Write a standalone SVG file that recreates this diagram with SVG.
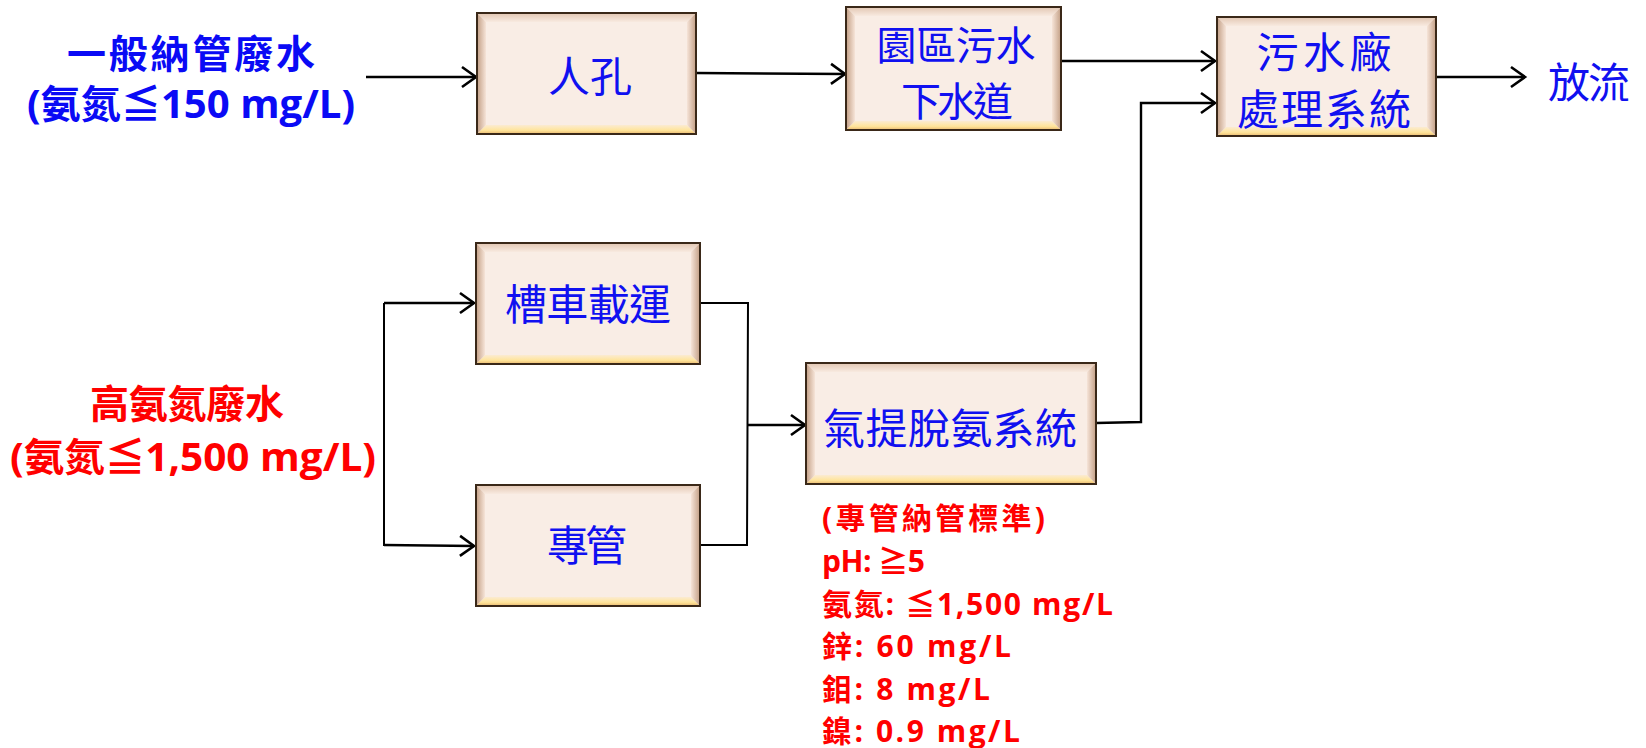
<svg xmlns="http://www.w3.org/2000/svg" width="1646" height="748" viewBox="0 0 1646 748">
<defs>
<linearGradient id="gL" x1="0" y1="0" x2="1" y2="0"><stop offset="0" stop-color="#C29E84"/><stop offset="1" stop-color="#F6E4D8"/></linearGradient>
<linearGradient id="gR" x1="0" y1="0" x2="1" y2="0"><stop offset="0" stop-color="#F6E4D8"/><stop offset="1" stop-color="#C29E84"/></linearGradient>
<linearGradient id="gT" x1="0" y1="0" x2="0" y2="1"><stop offset="0" stop-color="#E2C6B2"/><stop offset="1" stop-color="#F8EAE0"/></linearGradient>
<linearGradient id="gB" x1="0" y1="0" x2="0" y2="1"><stop offset="0" stop-color="#FBEBD2"/><stop offset="0.6" stop-color="#FFE49A"/><stop offset="1" stop-color="#E9B870"/></linearGradient>
<marker id="arr" markerUnits="userSpaceOnUse" markerWidth="20" markerHeight="24" refX="16" refY="12" orient="auto" viewBox="0 0 20 24">
<polyline points="2,2 16,12 2,22" fill="none" stroke="#000" stroke-width="2.6"/>
</marker>
</defs>
<style>
.face{fill:#F9EDE5;}
.edge{fill:none;stroke:#3A2818;stroke-width:2;}
.bl{fill:url(#gL);} .br{fill:url(#gR);} .bt{fill:url(#gT);} .bb{fill:url(#gB);}
.bt2{font-family:"Noto Sans CJK TC","Noto Sans",sans-serif;font-size:42px;fill:#1010F0;text-anchor:middle;dominant-baseline:central;}
.sm{font-size:40px;}
.lab{font-family:"Open Sans","Noto Sans CJK TC",sans-serif;font-weight:bold;font-size:39px;text-anchor:middle;dominant-baseline:central;}
.std{font-family:"Open Sans","Noto Sans CJK TC",sans-serif;font-weight:bold;font-size:30px;fill:#FF0000;dominant-baseline:central;}
.c{fill:none;stroke:#000;stroke-width:2;}
.ca{fill:none;stroke:#000;stroke-width:2.4;marker-end:url(#arr);}
</style>

<g id="connectors">
<line class="ca" x1="366" y1="77" x2="476" y2="77"/>
<line class="ca" x1="696" y1="73" x2="845" y2="74"/>
<line class="ca" x1="1061" y1="61" x2="1215" y2="61"/>
<polyline class="ca" points="1096,423 1141,422 1141,103 1215,103"/>
<line class="ca" x1="1436" y1="77" x2="1525" y2="77"/>
<line class="c" x1="384" y1="303" x2="384" y2="546"/>
<line class="ca" x1="384" y1="303" x2="474" y2="303"/>
<line class="ca" x1="384" y1="545" x2="474" y2="546"/>
<polyline class="c" points="700,303 748,303 747,545 700,545"/>
<line class="ca" x1="747" y1="425" x2="805" y2="425"/>
</g>

<g id="label-general">
<text class="lab" x="191" y="52" fill="#0A0AF5" textLength="248" lengthAdjust="spacing">一般納管廢水</text>
<text class="lab" x="191" y="102" fill="#0A0AF5" textLength="328" lengthAdjust="spacingAndGlyphs">(氨氮≦150 mg/L)</text>
</g>
<g id="label-high">
<text class="lab" x="187" y="402" fill="#FF0000" textLength="194" lengthAdjust="spacing">高氨氮廢水</text>
<text class="lab" x="193" y="455" fill="#FF0000" textLength="366" lengthAdjust="spacingAndGlyphs">(氨氮≦1,500 mg/L)</text>
</g>

<g id="node-manhole">
<rect class="face" x="477" y="13" width="219" height="121"/>
<path class="bt" d="M477,13 L696,13 L687,22 L486,22 Z"/>
<path class="bb" d="M477,134 L696,134 L687,125 L486,125 Z"/>
<path class="bl" d="M477,13 L486,22 L486,125 L477,134 Z"/>
<path class="br" d="M696,13 L687,22 L687,125 L696,134 Z"/>
<rect class="edge" x="477" y="13" width="219" height="121"/>
<text class="bt2" x="590" y="73">人孔</text>
</g>

<g id="node-sewer">
<rect class="face" x="846" y="7" width="215" height="123"/>
<path class="bt" d="M846,7 L1061,7 L1052,16 L855,16 Z"/>
<path class="bb" d="M846,130 L1061,130 L1052,121 L855,121 Z"/>
<path class="bl" d="M846,7 L855,16 L855,121 L846,130 Z"/>
<path class="br" d="M1061,7 L1052,16 L1052,121 L1061,130 Z"/>
<rect class="edge" x="846" y="7" width="215" height="123"/>
<text class="bt2 sm" x="956" y="43" textLength="159" lengthAdjust="spacing">園區污水</text>
<text class="bt2 sm" x="957" y="99" textLength="112" lengthAdjust="spacing">下水道</text>
</g>

<g id="node-plant">
<rect class="face" x="1217" y="17" width="219" height="119"/>
<path class="bt" d="M1217,17 L1436,17 L1427,26 L1226,26 Z"/>
<path class="bb" d="M1217,136 L1436,136 L1427,127 L1226,127 Z"/>
<path class="bl" d="M1217,17 L1226,26 L1226,127 L1217,136 Z"/>
<path class="br" d="M1436,17 L1427,26 L1427,127 L1436,136 Z"/>
<rect class="edge" x="1217" y="17" width="219" height="119"/>
<text class="bt2" x="1324" y="49" textLength="135" lengthAdjust="spacing">污水廠</text>
<text class="bt2" x="1324" y="106" textLength="174" lengthAdjust="spacing">處理系統</text>
</g>

<g id="node-discharge">
<text class="bt2" x="1589" y="79" textLength="82" lengthAdjust="spacing">放流</text>
</g>

<g id="node-truck">
<rect class="face" x="476" y="243" width="224" height="121"/>
<path class="bt" d="M476,243 L700,243 L691,252 L485,252 Z"/>
<path class="bb" d="M476,364 L700,364 L691,355 L485,355 Z"/>
<path class="bl" d="M476,243 L485,252 L485,355 L476,364 Z"/>
<path class="br" d="M700,243 L691,252 L691,355 L700,364 Z"/>
<rect class="edge" x="476" y="243" width="224" height="121"/>
<text class="bt2" x="588" y="301" textLength="166" lengthAdjust="spacing">槽車載運</text>
</g>

<g id="node-pipe">
<rect class="face" x="476" y="485" width="224" height="121"/>
<path class="bt" d="M476,485 L700,485 L691,494 L485,494 Z"/>
<path class="bb" d="M476,606 L700,606 L691,597 L485,597 Z"/>
<path class="bl" d="M476,485 L485,494 L485,597 L476,606 Z"/>
<path class="br" d="M700,485 L691,494 L691,597 L700,606 Z"/>
<rect class="edge" x="476" y="485" width="224" height="121"/>
<text class="bt2" x="587" y="542" textLength="80" lengthAdjust="spacing">專管</text>
</g>

<g id="node-stripping">
<rect class="face" x="806" y="363" width="290" height="121"/>
<path class="bt" d="M806,363 L1096,363 L1087,372 L815,372 Z"/>
<path class="bb" d="M806,484 L1096,484 L1087,475 L815,475 Z"/>
<path class="bl" d="M806,363 L815,372 L815,475 L806,484 Z"/>
<path class="br" d="M1096,363 L1087,372 L1087,475 L1096,484 Z"/>
<rect class="edge" x="806" y="363" width="290" height="121"/>
<text class="bt2" x="950" y="425" textLength="254" lengthAdjust="spacing">氣提脫氨系統</text>
</g>

<g id="standards">
<text class="std" x="822" y="517" textLength="223" lengthAdjust="spacing">(專管納管標準)</text>
<text class="std" x="822" y="560" textLength="103" lengthAdjust="spacing">pH: ≧5</text>
<text class="std" x="822" y="603" textLength="291" lengthAdjust="spacing">氨氮: ≦1,500 mg/L</text>
<text class="std" x="822" y="645" textLength="189" lengthAdjust="spacing">鋅: 60 mg/L</text>
<text class="std" x="822" y="688" textLength="168" lengthAdjust="spacing">鉬: 8 mg/L</text>
<text class="std" x="822" y="730" textLength="198" lengthAdjust="spacing">鎳: 0.9 mg/L</text>
</g>
</svg>
